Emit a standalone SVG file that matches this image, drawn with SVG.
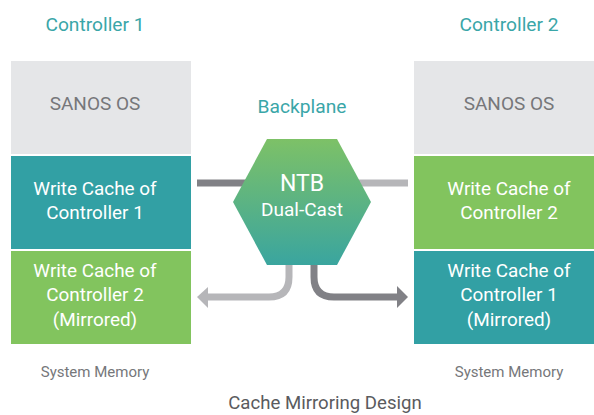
<svg xmlns="http://www.w3.org/2000/svg" width="594" height="415" viewBox="0 0 594 415">
<defs>
<linearGradient id="hexg" x1="0" y1="0" x2="0" y2="1">
<stop offset="0" stop-color="#7dc167"/>
<stop offset="1" stop-color="#3aa59f"/>
</linearGradient>
</defs>
<style>
text{font-family:Roboto,"Liberation Sans",sans-serif;text-anchor:middle}
.title{font-size:19.2px;fill:#3aa6a8}
.os{font-size:19px;fill:#76777a}
.wc{font-size:18.9px;fill:#ffffff}
.mem{font-size:15px;fill:#76777a}
.cap{font-size:18.6px;fill:#5a5b5e}
.gray{fill:#e5e6e8}
.teal{fill:#32a0a4}
.green{fill:#82c45e}
.dark{stroke:#818186;stroke-width:7;fill:none}
.light{stroke:#b6b6b9;stroke-width:7;fill:none}
</style>
<rect width="594" height="415" fill="#ffffff"/>
<text class="title" x="95" y="31">Controller 1</text>
<text class="title" x="509" y="31">Controller 2</text>
<text class="title" x="302" y="113">Backplane</text>
<g id="connectors">
<line class="dark" x1="197" y1="183" x2="250" y2="183"/>
<line class="light" x1="355" y1="183" x2="408" y2="183"/>
<path class="light" d="M289 262 V277 Q289 297 269 297 H206"/>
<polygon points="197,297 208,287 208,308" fill="#b6b6b9"/>
<path class="dark" d="M314 262 V277 Q314 297 334 297 H398"/>
<polygon points="408,297 397,286 397,308" fill="#818186"/>
</g>
<g id="ctrl1-os"><rect class="gray" x="11" y="61" width="180" height="93"/><text class="os" x="95" y="110">SANOS OS</text></g>
<g id="ctrl1-wc1"><rect class="teal" x="11" y="156" width="180" height="93"/><text class="wc" x="95" y="195">Write Cache of</text><text class="wc" x="95" y="219">Controller 1</text></g>
<g id="ctrl1-wc2"><rect class="green" x="11" y="251" width="180" height="93"/><text class="wc" x="95" y="277">Write Cache of</text><text class="wc" x="95" y="301">Controller 2</text><text class="wc" x="95" y="326">(Mirrored)</text></g>
<g id="ctrl2-os"><rect class="gray" x="414" y="61" width="180" height="93"/><text class="os" x="509" y="110">SANOS OS</text></g>
<g id="ctrl2-wc2"><rect class="green" x="414" y="156" width="180" height="93"/><text class="wc" x="509" y="195">Write Cache of</text><text class="wc" x="509" y="219">Controller 2</text></g>
<g id="ctrl2-wc1"><rect class="teal" x="414" y="251" width="180" height="93"/><text class="wc" x="509" y="277">Write Cache of</text><text class="wc" x="509" y="301">Controller 1</text><text class="wc" x="509" y="326">(Mirrored)</text></g>
<g id="ntb">
<polygon points="267,139 337,139 371,202 337,265 267,265 233,202" fill="url(#hexg)"/>
<text x="302" y="191" style="font-size:23px;fill:#ffffff">NTB</text>
<text x="302" y="216" style="font-size:19px;fill:#ffffff">Dual-Cast</text>
</g>
<text class="mem" x="95" y="377">System Memory</text>
<text class="mem" x="509" y="377">System Memory</text>
<text class="cap" x="325" y="409">Cache Mirroring Design</text>
</svg>
